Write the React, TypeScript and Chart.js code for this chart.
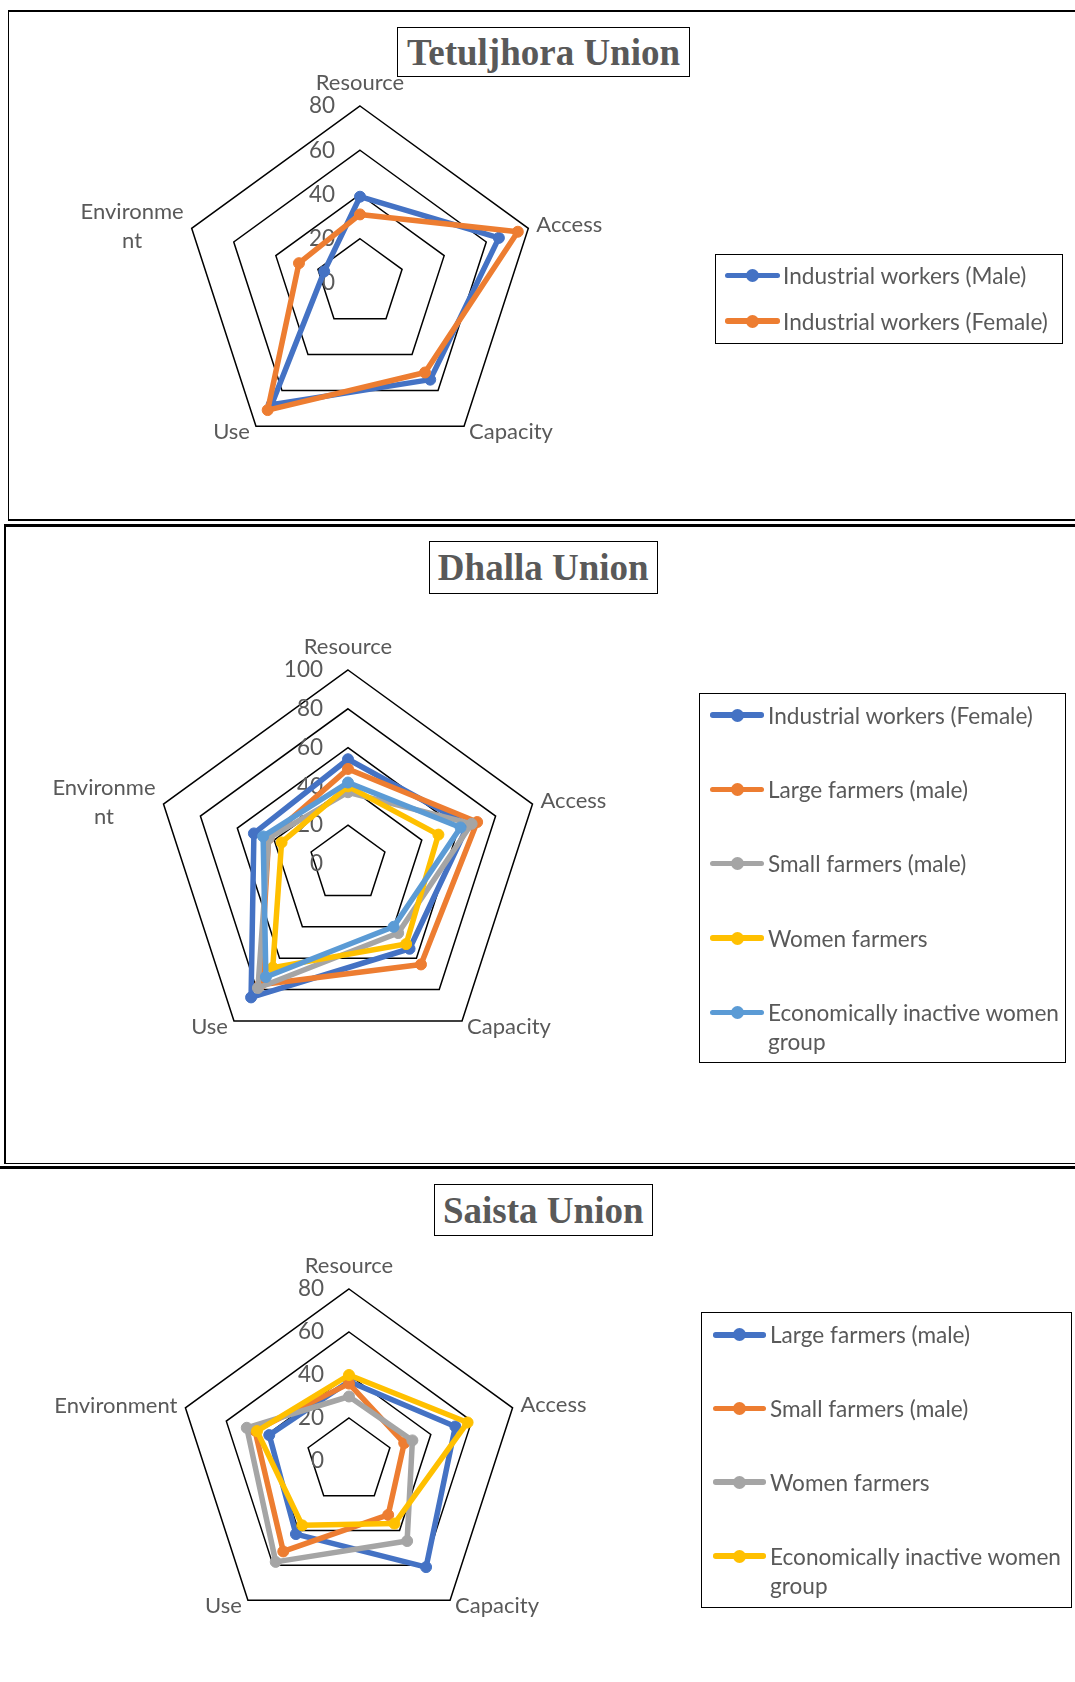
import React, { useEffect, useRef } from "react";
import { Chart, registerables } from "chart.js";

Chart.register(...registerables);

// ---------- DATA ----------
const axes = ["Resource", "Access", "Capacity", "Use", "Environment"];
const axesWrapped: (string | string[])[] = ["Resource", "Access", "Capacity", "Use", ["Environme", "nt"]];

// Tetuljhora Union
const tetTitle = "Tetuljhora Union";
const tetSeries = ["Industrial workers (Male)", "Industrial workers (Female)"];
const tetMale = [39, 66, 54, 68, 17];
const tetFemale = [31, 75, 50, 71, 29];
const tetTicks = [0, 20, 40, 60, 80];

// Dhalla Union
const dhaTitle = "Dhalla Union";
const dhaSeries = [
  "Industrial workers (Female)",
  "Large farmers (male)",
  "Small farmers (male)",
  "Women farmers",
  "Economically inactive women group",
];
const dhaIndFemale = [54, 65, 54, 85, 51];
const dhaLarge = [49, 70, 64, 77, 43];
const dhaSmall = [37, 67, 44, 79, 43];
const dhaWomen = [40, 49, 51, 66, 36];
const dhaInactive = [42, 61, 40, 72, 46];
const dhaTicks = [0, 20, 40, 60, 80, 100];

// Saista Union
const saiTitle = "Saista Union";
const saiSeries = ["Large farmers (male)", "Small farmers (male)", "Women farmers", "Economically inactive women group"];
const saiLarge = [37, 52, 61, 42, 39];
const saiSmall = [36, 27, 31, 52, 46];
const saiWomen = [30, 31, 46, 58, 50];
const saiInactive = [40, 58, 36, 37, 45];
const saiTicks = [0, 20, 40, 60, 80];

// ---------- STYLE ----------
const BLUE = "#4472C4";
const ORANGE = "#ED7D31";
const GRAY = "#A5A5A5";
const YELLOW = "#FFC000";
const LBLUE = "#5B9BD5";
const TEXT = "#595959";
const SANS = "Lato, 'Open Sans', sans-serif";
const LABEL_PX = 22;
const TICK_PX = 22.5;
const LEGEND_PX = 22.6;

const excelText = {
  id: "excelText",
  beforeDatasetsDraw(chart: any) {
    const scale = chart.scales.r;
    const ctx = chart.ctx as CanvasRenderingContext2D;
    ctx.save();
    ctx.fillStyle = TEXT;
    ctx.font = `${TICK_PX}px ${SANS}`;
    ctx.textAlign = "right";
    ctx.textBaseline = "middle";
    scale.ticks.forEach((t: any) => {
      const d = scale.getDistanceFromCenterForValue(t.value);
      ctx.fillText(String(t.value), scale.xCenter - 25, scale.yCenter - d);
    });
    ctx.font = `${LABEL_PX}px ${SANS}`;
    const labels = chart.data.labels as (string | string[])[];
    const lh = 29;
    labels.forEach((lab, i) => {
      const p = scale.getPointPosition(i, scale.drawingArea);
      const lines = Array.isArray(lab) ? lab : [lab];
      const widths = lines.map((l) => ctx.measureText(l).width);
      const maxW = Math.max(...widths);
      let anchorX = p.x;
      let midY = p.y;
      let mode: "center" | "left" | "right" = "center";
      if (i === 0) { mode = "center"; midY = p.y - 23; }
      else if (i === 1) { mode = "left"; anchorX = p.x + 8; midY = p.y - 3; }
      else if (i === 2) { mode = "left"; anchorX = p.x + 5; midY = p.y + 6; }
      else if (i === 3) { mode = "right"; anchorX = p.x - 6; midY = p.y + 6; }
      else { mode = "right"; anchorX = p.x - 8; midY = p.y - 2; }
      let blockCenterX = anchorX;
      if (mode === "left") blockCenterX = anchorX + maxW / 2;
      if (mode === "right") blockCenterX = anchorX - maxW / 2;
      ctx.textAlign = "center";
      const y0 = midY - ((lines.length - 1) * lh) / 2;
      lines.forEach((l, k) => ctx.fillText(l, blockCenterX, y0 + k * lh));
    });
    ctx.restore();
  },
};

type Rect = { left: number; top: number; width: number; height: number };

type PanelProps = {
  canvasTop: number;
  canvasH: number;
  cx: number;
  cy: number;
  R: number;
  ticks: number[];
  labels: (string | string[])[];
  series: string[];
  values: number[][];
  colors: string[];
  title: string;
  titleBox: Rect;
  legendBox: Rect;
  iconX: [number, number];
  textX: number;
  itemYs: number[];
};

function RadarPanel(p: PanelProps) {
  const ref = useRef<HTMLCanvasElement | null>(null);
  useEffect(() => {
    if (!ref.current) return;
    const W = 1075;
    const chart = new Chart(ref.current, {
      type: "radar",
      data: {
        labels: p.labels as any,
        datasets: p.series.map((name, i) => ({
          label: name,
          data: p.values[i],
          borderColor: p.colors[i],
          backgroundColor: p.colors[i],
          pointBackgroundColor: p.colors[i],
          pointBorderColor: p.colors[i],
          borderWidth: 5.5,
          pointRadius: 5.5,
          pointBorderWidth: 1,
          borderJoinStyle: "round",
          fill: false,
          order: p.series.length - i,
        })),
      },
      options: {
        animation: false,
        responsive: false,
        layout: {
          padding: {
            left: p.cx - p.R,
            right: W - p.cx - p.R,
            top: p.cy - p.R,
            bottom: p.canvasH - p.cy - p.R,
          },
        },
        plugins: { legend: { display: false }, title: { display: false }, tooltip: { enabled: false } },
        scales: {
          r: {
            min: p.ticks[0],
            max: p.ticks[p.ticks.length - 1],
            ticks: { display: false, stepSize: p.ticks[1] - p.ticks[0] },
            grid: { circular: false, color: "#000", lineWidth: 1.5 },
            angleLines: { display: false },
            pointLabels: { display: false },
          },
        },
      } as any,
      plugins: [excelText],
    });
    return () => chart.destroy();
  }, []);

  return (
    <>
      <canvas
        ref={ref}
        width={1075}
        height={p.canvasH}
        style={{ position: "absolute", left: 0, top: p.canvasTop, width: 1075, height: p.canvasH }}
      />
      <div
        style={{
          position: "absolute",
          left: p.titleBox.left,
          top: p.titleBox.top,
          width: p.titleBox.width,
          height: p.titleBox.height,
          boxSizing: "border-box",
          border: "1.5px solid #000",
          background: "#fff",
          display: "flex",
          alignItems: "center",
          justifyContent: "center",
          fontFamily: "'Liberation Serif', 'Times New Roman', serif",
          fontWeight: "bold",
          fontSize: 37,
          color: TEXT,
          whiteSpace: "nowrap",
        }}
      >
        {p.title}
      </div>
      <div
        style={{
          position: "absolute",
          left: p.legendBox.left,
          top: p.legendBox.top,
          width: p.legendBox.width,
          height: p.legendBox.height,
          boxSizing: "border-box",
          border: "1.5px solid #000",
        }}
      />
      {p.series.map((name, i) => {
        const y = p.itemYs[i];
        const c = p.colors[i];
        const mid = (p.iconX[0] + p.iconX[1]) / 2;
        return (
          <React.Fragment key={name}>
            <div
              style={{
                position: "absolute",
                left: p.iconX[0],
                top: y - 2.75,
                width: p.iconX[1] - p.iconX[0],
                height: 5.5,
                background: c,
                borderRadius: 2.75,
              }}
            />
            <div
              style={{
                position: "absolute",
                left: mid - 6.5,
                top: y - 6.5,
                width: 13,
                height: 13,
                borderRadius: "50%",
                background: c,
              }}
            />
            <div
              style={{
                position: "absolute",
                left: p.textX,
                top: y - 14.5,
                width: p.legendBox.left + p.legendBox.width - p.textX + 12,
                fontFamily: SANS,
                fontSize: LEGEND_PX,
                lineHeight: "29px",
                color: TEXT,
              }}
            >
              {name}
            </div>
          </React.Fragment>
        );
      })}
    </>
  );
}

const line = (left: number, top: number, width: number, height: number) => (
  <div style={{ position: "absolute", left, top, width, height, background: "#000" }} />
);

export default function App() {
  return (
    <div
      style={{
        position: "absolute",
        left: 0,
        top: 0,
        width: 1075,
        height: 1682,
        overflow: "hidden",
        background: "#fff",
      }}
    >
      {line(8, 9.5, 1067, 2)}
      {line(7.5, 10, 1.7, 511)}
      {line(8, 519.3, 1067, 2)}
      {line(3.5, 523.5, 1072, 3)}
      {line(3.5, 524, 2, 640)}
      {line(4, 1162.5, 1071, 1.7)}
      {line(0, 1166, 1075, 3)}

      <RadarPanel
        canvasTop={0}
        canvasH={522}
        cx={360}
        cy={283}
        R={177}
        ticks={tetTicks}
        labels={axesWrapped}
        series={tetSeries}
        values={[tetMale, tetFemale]}
        colors={[BLUE, ORANGE]}
        title={tetTitle}
        titleBox={{ left: 397, top: 27, width: 293, height: 50 }}
        legendBox={{ left: 715, top: 254, width: 348, height: 90 }}
        iconX={[725, 780]}
        textX={783}
        itemYs={[275.5, 321]}
      />
      <RadarPanel
        canvasTop={522}
        canvasH={642}
        cx={348}
        cy={342}
        R={194}
        ticks={dhaTicks}
        labels={axesWrapped}
        series={dhaSeries}
        values={[dhaIndFemale, dhaLarge, dhaSmall, dhaWomen, dhaInactive]}
        colors={[BLUE, ORANGE, GRAY, YELLOW, LBLUE]}
        title={dhaTitle}
        titleBox={{ left: 428.5, top: 541, width: 229.5, height: 52.5 }}
        legendBox={{ left: 698.5, top: 693, width: 367.5, height: 370 }}
        iconX={[709.6, 764.4]}
        textX={768}
        itemYs={[715, 789.5, 863.3, 938, 1012.5]}
      />
      <RadarPanel
        canvasTop={1166}
        canvasH={516}
        cx={349}
        cy={295}
        R={172}
        ticks={saiTicks}
        labels={axes}
        series={saiSeries}
        values={[saiLarge, saiSmall, saiWomen, saiInactive]}
        colors={[BLUE, ORANGE, GRAY, YELLOW]}
        title={saiTitle}
        titleBox={{ left: 434, top: 1184, width: 218.5, height: 52 }}
        legendBox={{ left: 700.7, top: 1312, width: 371, height: 296 }}
        iconX={[713, 766]}
        textX={770}
        itemYs={[1334.8, 1408.7, 1482.2, 1556]}
      />
    </div>
  );
}
